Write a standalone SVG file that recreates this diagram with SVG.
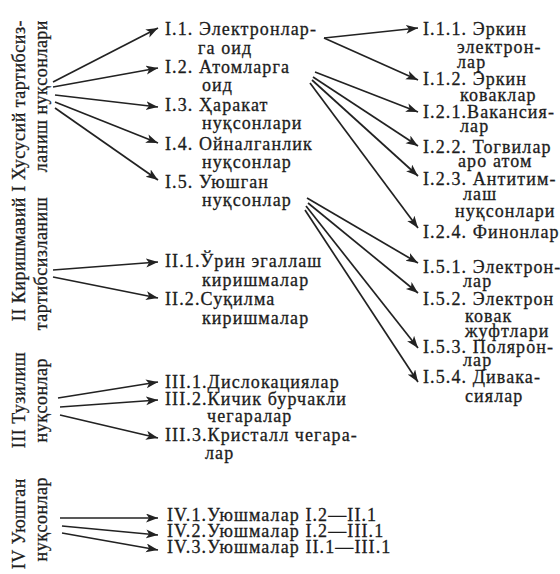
<svg xmlns="http://www.w3.org/2000/svg" width="560" height="574" viewBox="0 0 560 574">
<style>
text{font-family:"Liberation Serif","DejaVu Serif","Times New Roman",serif;font-size:18px;fill:#1c1c1c;stroke:#1c1c1c;stroke-width:0.3px;letter-spacing:1.1px}
.v{text-anchor:end;letter-spacing:0.5px}
.c line{stroke:#222222;stroke-width:1.7;marker-end:url(#ah)}
</style>
<defs>
<marker id="ah" markerUnits="userSpaceOnUse" markerWidth="13" markerHeight="10" refX="12" refY="4.5" orient="auto">
<path d="M0,0 L12,4.5 L0,9 L3,4.5 z" fill="#222222"/>
</marker>
</defs>
<rect width="560" height="574" fill="#ffffff"/>

<g id="grp-I">
<text class="v" transform="translate(25,20) rotate(-90)">I Хусусий тартибсиз-</text>
<text class="v" transform="translate(47,20) rotate(-90)">ланиш нуқсонлари</text>
</g>
<g id="grp-II">
<text class="v" transform="translate(25,197) rotate(-90)">II Киришмавий</text>
<text class="v" transform="translate(47,197) rotate(-90)">тартибсизланиш</text>
</g>
<g id="grp-III">
<text class="v" transform="translate(25,352) rotate(-90)">III Тузилиш</text>
<text class="v" transform="translate(47,358) rotate(-90)">нуқсонлар</text>
</g>
<g id="grp-IV">
<text class="v" transform="translate(25,478) rotate(-90)">IV Уюшган</text>
<text class="v" transform="translate(47,477) rotate(-90)">нуқсонлар</text>
</g>

<g id="n-I1"><text x="165" y="35">I.1. Электронлар-</text><text x="198" y="54">га оид</text></g>
<g id="n-I2"><text x="165" y="73">I.2. Атомларга</text><text x="202" y="91">оид</text></g>
<g id="n-I3"><text x="165" y="111">I.3. Ҳаракат</text><text x="202" y="129">нуқсонлари</text></g>
<g id="n-I4"><text x="165" y="150">I.4. Ойналганлик</text><text x="202" y="168">нуқсонлар</text></g>
<g id="n-I5"><text x="165" y="188">I.5. Уюшган</text><text x="202" y="206">нуқсонлар</text></g>

<g id="n-I11"><text x="423" y="35">I.1.1. Эркин</text><text x="457" y="53">электрон-</text><text x="457" y="68">лар</text></g>
<g id="n-I12"><text x="423" y="85">I.1.2. Эркин</text><text x="460" y="101">коваклар</text></g>
<g id="n-I21"><text x="423" y="118">I.2.1.Вакансия-</text><text x="460" y="132">лар</text></g>
<g id="n-I22"><text x="423" y="153">I.2.2. Тогвилар</text><text x="458" y="167">аро атом</text></g>
<g id="n-I23"><text x="423" y="185">I.2.3. Антитим-</text><text x="463" y="200">лаш</text><text x="455" y="217">нуқсонлари</text></g>
<g id="n-I24"><text x="423" y="238">I.2.4. Финонлар</text></g>
<g id="n-I51"><text x="423" y="273">I.5.1. Электрон-</text><text x="463" y="287">лар</text></g>
<g id="n-I52"><text x="423" y="305">I.5.2. Электрон</text><text x="465" y="322">ковак</text><text x="465" y="337">жуфтлари</text></g>
<g id="n-I53"><text x="423" y="353">I.5.3. Полярон-</text><text x="463" y="366">лар</text></g>
<g id="n-I54"><text x="423" y="383">I.5.4. Дивака-</text><text x="465" y="402">сиялар</text></g>

<g id="n-II1"><text x="165" y="267">II.1.Ўрин эгаллаш</text><text x="202" y="286">киришмалар</text></g>
<g id="n-II2"><text x="165" y="305">II.2.Суқилма</text><text x="202" y="324">киришмалар</text></g>

<g id="n-III1"><text x="165" y="388">III.1.Дислокациялар</text></g>
<g id="n-III2"><text x="165" y="405">III.2.Кичик бурчакли</text><text x="207" y="422">чегаралар</text></g>
<g id="n-III3"><text x="165" y="441">III.3.Кристалл чегара-</text><text x="205" y="459">лар</text></g>

<g id="n-IV1"><text x="167" y="521">IV.1.Уюшмалар I.2—II.1</text></g>
<g id="n-IV2"><text x="167" y="537">IV.2.Уюшмалар I.2—III.1</text></g>
<g id="n-IV3"><text x="167" y="553">IV.3.Уюшмалар II.1—III.1</text></g>

<g id="connectors" class="c">
<line x1="53" y1="82" x2="158" y2="28"/>
<line x1="53" y1="87" x2="158" y2="68"/>
<line x1="55" y1="95" x2="158" y2="107"/>
<line x1="55" y1="102" x2="158" y2="143"/>
<line x1="55" y1="108" x2="158" y2="180"/>

<line x1="53" y1="270" x2="158" y2="262"/>
<line x1="53" y1="277" x2="158" y2="298"/>

<line x1="58" y1="398" x2="158" y2="382"/>
<line x1="60" y1="407" x2="158" y2="400"/>
<line x1="60" y1="415" x2="158" y2="438"/>

<line x1="60" y1="518" x2="158" y2="518"/>
<line x1="62" y1="526" x2="158" y2="535"/>
<line x1="62" y1="533" x2="158" y2="550"/>

<line x1="324" y1="38" x2="418" y2="28"/>
<line x1="324" y1="38" x2="418" y2="80"/>

<line x1="315" y1="72" x2="418" y2="112"/>
<line x1="313" y1="77" x2="418" y2="146"/>
<line x1="312" y1="80" x2="418" y2="176"/>
<line x1="310" y1="83" x2="418" y2="228"/>

<line x1="307" y1="198" x2="418" y2="263"/>
<line x1="308" y1="203" x2="418" y2="293"/>
<line x1="306" y1="206" x2="418" y2="348"/>
<line x1="305" y1="210" x2="418" y2="382"/>
</g>
</svg>
